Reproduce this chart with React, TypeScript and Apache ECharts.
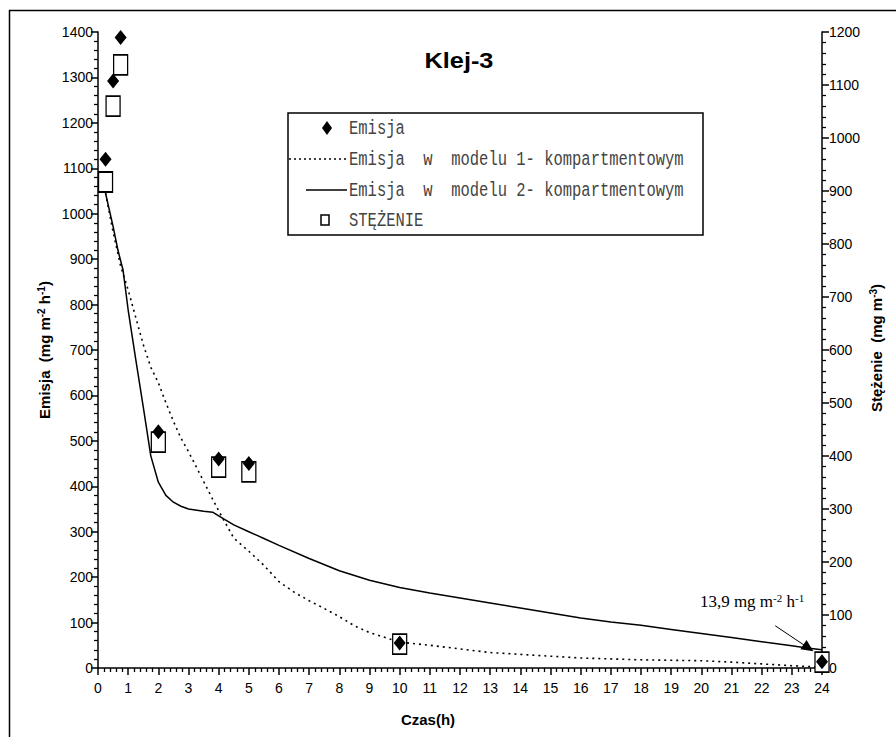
import React, { useEffect, useRef } from 'react';
import * as echarts from 'echarts';

// Measured data (Czas in hours)
const emisjaX = [0.25, 0.5, 0.75, 2, 4, 5, 10, 24];
const emisjaY = [1120, 1292, 1388, 520, 460, 450, 55, 14];
const stezenieX = [0.25, 0.5, 0.75, 2, 4, 5, 10, 24];
const stezenieY = [917, 1060, 1138, 426, 379, 370, 45, 11];

// Model 1-compartment (dotted)
const model1X = [0.25, 0.5, 0.75, 1, 1.25, 1.5, 1.75, 2, 2.25, 2.5, 2.75, 3, 3.25, 3.5, 3.75, 4, 4.5, 5, 5.5, 6, 6.5, 7, 7.5, 8, 8.5, 9, 10, 11, 12, 13, 14, 15, 16, 17, 18, 19, 20, 21, 22, 23, 24];
const model1Y = [1045, 960, 885, 832, 772, 712, 662, 628, 584, 543, 506, 476, 444, 411, 378, 346, 286, 257, 226, 190, 167, 148, 131, 113, 93, 78, 57, 50, 42, 34, 30, 26, 22, 20, 18, 17, 16, 13, 9, 5, 2];

// Model 2-compartment (solid)
const model2X = [0.25, 0.5, 0.66, 0.83, 1, 1.25, 1.5, 1.75, 2, 2.25, 2.5, 2.75, 3, 3.5, 3.8, 4, 4.5, 5, 5.5, 6, 7, 8, 9, 10, 11, 12, 13, 14, 15, 16, 17, 18, 19, 20, 21, 22, 23, 23.5, 24];
const model2Y = [1045, 972, 920, 876, 788, 680, 575, 467, 409, 380, 365, 356, 350, 345, 343, 335, 315, 300, 285, 270, 241, 214, 193, 177, 165, 154, 143, 132, 121, 110, 101, 94, 85, 76, 67, 58, 49, 44, 40];

const leftTicks = { min: 0, max: 1400, interval: 100 };
const rightTicks = { min: 0, max: 1200, interval: 100 };
const xTicks = { min: 0, max: 24, interval: 1 };

const legendLabels = [
  'Emisja',
  'Emisja  w  modelu 1- kompartmentowym',
  'Emisja  w  modelu 2- kompartmentowym',
  'STĘŻENIE',
];

const zip = (xs: number[], ys: number[]) => xs.map((x, i) => [x, ys[i]]);

const SANS = 'Liberation Sans, Arial, sans-serif';
const MONO = 'Liberation Mono, monospace';
const SERIF = 'Liberation Serif, serif';

export default function App() {
  const ref = useRef<HTMLDivElement>(null);
  useEffect(() => {
    if (!ref.current) return;
    const chart = echarts.init(ref.current, null, { renderer: 'svg' });

    const axisCommon = {
      type: 'value' as const,
      splitLine: { show: false },
      axisLine: { show: true, onZero: false, lineStyle: { color: '#000', width: 1.5 } },
      axisTick: { show: true, length: 7, lineStyle: { color: '#000', width: 1.5 } },
      minorTick: { show: true, splitNumber: 5, length: 4, lineStyle: { color: '#000', width: 1.3 } },
      axisLabel: { color: '#000', fontSize: 14, fontFamily: SANS, formatter: (v: number) => String(v) },
    };

    const richAxis = (fs: number) => ({
      b: { fontSize: fs, fontWeight: 'bold', fontFamily: SANS, color: '#000', lineHeight: 16, verticalAlign: 'bottom' },
      s: { fontSize: 10, fontWeight: 'bold', fontFamily: SANS, color: '#000', lineHeight: 10, verticalAlign: 'top', padding: [0, 0, 9, 0] },
    });

    const legendRows = [128, 159, 190, 220];

    chart.setOption({
      animation: false,
      backgroundColor: '#fff',
      grid: { left: 98, right: 74, top: 32, bottom: 69, containLabel: false },
      xAxis: {
        ...axisCommon,
        ...xTicks,
        axisLabel: { ...axisCommon.axisLabel, margin: 13 },
      },
      yAxis: [
        {
          ...axisCommon,
          ...leftTicks,
          position: 'left',
          alignTicks: false,
          axisLabel: { ...axisCommon.axisLabel, margin: 5 },
        },
        {
          ...axisCommon,
          ...rightTicks,
          position: 'right',
          alignTicks: false,
          axisLabel: { ...axisCommon.axisLabel, margin: 7 },
        },
      ],
      series: [
        {
          name: legendLabels[1],
          type: 'line',
          yAxisIndex: 0,
          data: zip(model1X, model1Y),
          showSymbol: false,
          symbol: 'none',
          z: 2,
          lineStyle: { color: '#000', width: 1.6, type: [2, 4] },
        },
        {
          name: legendLabels[2],
          type: 'line',
          yAxisIndex: 0,
          data: zip(model2X, model2Y),
          showSymbol: false,
          symbol: 'none',
          z: 2,
          lineStyle: { color: '#000', width: 1.5 },
          markLine: {
            silent: true,
            symbol: ['none', 'triangle'],
            symbolSize: [11, 12],
            lineStyle: { color: '#000', type: 'solid', width: 1 },
            itemStyle: { color: '#000' },
            label: { show: false },
            data: [[{ coord: [22.45, 93] }, { coord: [23.55, 44] }]],
          },
        },
        {
          name: legendLabels[3],
          type: 'scatter',
          yAxisIndex: 1,
          data: zip(stezenieX, stezenieY),
          symbol: 'rect',
          symbolSize: [14, 20],
          z: 3,
          itemStyle: { color: '#fff', borderColor: '#000', borderWidth: 1.5, opacity: 1 },
        },
        {
          name: legendLabels[0],
          type: 'scatter',
          yAxisIndex: 0,
          data: zip(emisjaX, emisjaY),
          symbol: 'diamond',
          symbolSize: [12, 15],
          z: 4,
          itemStyle: { color: '#000', opacity: 1 },
        },
      ],
      graphic: [
        {
          type: 'rect',
          z: -10,
          silent: true,
          shape: { x: 9.5, y: 10.5, width: 950, height: 800 },
          style: { fill: 'none', stroke: '#000', lineWidth: 1.5 },
        },
        {
          type: 'text',
          x: 459,
          y: 61,
          scaleX: 1.15,
          style: { text: 'Klej-3', fontSize: 22, fontWeight: 'bold', fontFamily: SANS, fill: '#000', align: 'center', verticalAlign: 'middle' },
        },
        {
          type: 'text',
          x: 44,
          y: 350,
          rotation: Math.PI / 2,
          style: {
            text: '{b|Emisja  (mg m}{s|-2}{b| h}{s|-1}{b|)}',
            rich: richAxis(15),
            align: 'center',
            verticalAlign: 'middle',
          },
        },
        {
          type: 'text',
          x: 876,
          y: 348,
          rotation: Math.PI / 2,
          style: {
            text: '{b|Stężenie  (mg m}{s|-3}{b|)}',
            rich: richAxis(15),
            align: 'center',
            verticalAlign: 'middle',
          },
        },
        {
          type: 'text',
          x: 428,
          y: 719,
          style: { text: 'Czas(h)', fontSize: 15, fontWeight: 'bold', fontFamily: SANS, fill: '#000', align: 'center', verticalAlign: 'middle' },
        },
        // annotation
        {
          type: 'text',
          x: 752,
          y: 601,
          style: {
            text: '{b|13,9 mg m}{s|-2}{b| h}{s|-1}',
            rich: {
              b: { fontSize: 17, fontFamily: SERIF, color: '#444', lineHeight: 18, verticalAlign: 'bottom' },
              s: { fontSize: 11, fontFamily: SERIF, color: '#444', lineHeight: 11, verticalAlign: 'top', padding: [0, 0, 9, 0] },
            },
            align: 'center',
            verticalAlign: 'middle',
          },
        },
        // legend box
        {
          type: 'group',
          z: 20,
          children: [
            {
              type: 'rect',
              shape: { x: 288, y: 113, width: 415, height: 122 },
              style: { fill: '#fff', stroke: '#000', lineWidth: 1.5 },
            },
            {
              type: 'polygon',
              shape: { points: [[327, legendRows[0] - 7], [332, legendRows[0]], [327, legendRows[0] + 7], [322, legendRows[0]]] },
              style: { fill: '#000' },
            },
            {
              type: 'line',
              shape: { x1: 289, y1: legendRows[1], x2: 346, y2: legendRows[1] },
              style: { stroke: '#000', lineWidth: 1.6, lineDash: [2, 3] },
            },
            {
              type: 'line',
              shape: { x1: 306, y1: legendRows[2], x2: 347, y2: legendRows[2] },
              style: { stroke: '#000', lineWidth: 1.5 },
            },
            {
              type: 'rect',
              shape: { x: 321, y: legendRows[3] - 5, width: 8, height: 10 },
              style: { fill: '#fff', stroke: '#000', lineWidth: 1.5 },
            },
            ...legendLabels.map((t, i) => ({
              type: 'text',
              x: 349,
              y: legendRows[i],
              scaleY: 1.25,
              style: { text: t, fontSize: 15.5, fontFamily: MONO, fill: '#444', align: 'left', verticalAlign: 'middle' },
            })),
          ],
        },
      ],
    });
    return () => chart.dispose();
  }, []);

  return <div ref={ref} style={{ position: 'absolute', left: 0, top: 0, width: 896, height: 737 }} />;
}
